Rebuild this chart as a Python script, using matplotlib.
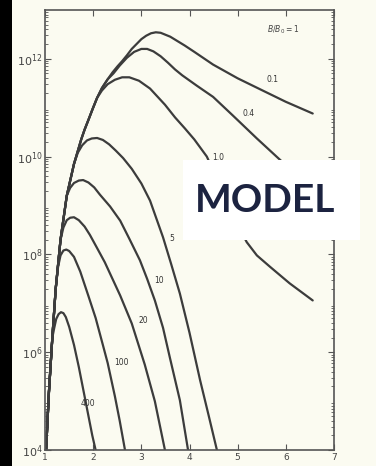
import numpy as np
from matplotlib import pyplot as plt
from matplotlib.patches import Rectangle

# shared steep rise at the left (x, log10 y)
rise_x = [1.02, 1.08, 1.15, 1.22, 1.32, 1.45, 1.60, 1.75, 1.82, 1.90, 1.99,
          2.08, 2.18, 2.30, 2.40, 2.50]
rise_log = [4.0, 5.2, 6.3, 7.3, 8.3, 9.2, 9.85, 10.35, 10.55, 10.75, 10.98,
            11.2, 11.4, 11.58, 11.72, 11.84]

# each curve: how many rise points it shares, then its own branch
curve_names = ['0.1', '0.4', '1.0', '5', '10', '20', '100', '400']
shared = [16, 14, 12, 7, 6, 5, 4, 3]
branch_x = [
    [2.60, 2.70, 2.80, 2.90, 3.00, 3.10, 3.20, 3.30, 3.40, 3.60, 3.90, 4.10,
     4.49, 5.00, 5.52, 6.00, 6.56],
    [2.42, 2.55, 2.70, 2.85, 3.00, 3.12, 3.25, 3.40, 3.55, 3.70, 3.85, 4.15,
     4.49, 4.90, 5.40, 5.94, 6.56],
    [2.18, 2.30, 2.45, 2.60, 2.75, 2.95, 3.18, 3.49, 3.70, 3.90, 4.10, 4.36,
     4.73, 5.00, 5.19, 5.40, 5.67, 6.08, 6.56],
    [1.68, 1.77, 1.87, 1.97, 2.08, 2.20, 2.33, 2.47, 2.62, 2.80, 3.00, 3.18,
     3.45, 3.62, 3.80, 4.00, 4.22, 4.40, 4.57],
    [1.52, 1.60, 1.70, 1.79, 1.90, 2.02, 2.14, 2.35, 2.56, 2.75, 2.97, 3.12,
     3.28, 3.45, 3.59, 3.80, 3.97],
    [1.38, 1.45, 1.52, 1.60, 1.70, 1.82, 1.93, 2.08, 2.24, 2.40, 2.56, 2.80,
     3.07, 3.28, 3.49],
    [1.27, 1.32, 1.38, 1.44, 1.50, 1.60, 1.73, 1.90, 2.05, 2.20, 2.30, 2.45,
     2.55, 2.66],
    [1.19, 1.23, 1.28, 1.33, 1.38, 1.43, 1.50, 1.60, 1.70, 1.80, 1.90, 1.98,
     2.05],
]
branch_log = [
    [11.95, 12.07, 12.20, 12.30, 12.40, 12.47, 12.52, 12.54, 12.53, 12.45,
     12.27, 12.14, 11.88, 11.60, 11.35, 11.12, 10.88],
    [11.70, 11.86, 12.02, 12.14, 12.20, 12.20, 12.15, 12.05, 11.92, 11.78,
     11.66, 11.45, 11.22, 10.84, 10.37, 9.88, 9.25],
    [11.35, 11.48, 11.57, 11.62, 11.62, 11.55, 11.39, 11.06, 10.80, 10.58,
     10.35, 10.00, 9.20, 8.60, 8.25, 7.98, 7.75, 7.41, 7.06],
    [10.08, 10.23, 10.33, 10.37, 10.38, 10.34, 10.25, 10.12, 9.97, 9.75, 9.45,
     9.10, 8.35, 7.80, 7.20, 6.40, 5.43, 4.70, 4.00],
    [9.36, 9.46, 9.51, 9.52, 9.47, 9.37, 9.22, 8.98, 8.69, 8.32, 7.88, 7.50,
     7.06, 6.50, 5.90, 5.02, 4.00],
    [8.55, 8.70, 8.75, 8.76, 8.70, 8.57, 8.40, 8.13, 7.84, 7.50, 7.16, 6.59,
     5.75, 5.00, 4.00],
    [7.75, 7.98, 8.08, 8.10, 8.07, 7.95, 7.65, 7.15, 6.70, 6.15, 5.78, 5.10,
     4.60, 4.00],
    [6.50, 6.68, 6.78, 6.82, 6.80, 6.72, 6.52, 6.15, 5.70, 5.20, 4.70, 4.30,
     4.00],
]
label_pos = [(5.60, 11.58), (5.10, 10.88), (4.48, 9.98), (3.58, 8.33),
             (3.26, 7.47), (2.93, 6.65), (2.43, 5.80), (1.74, 4.96)]

x_ticks = [1, 2, 3, 4, 5, 6, 7]
y_major = [1e4, 1e6, 1e8, 1e10, 1e12]

paper = '#fbfbf1'
ink = '#3c3c3c'

fig = plt.figure(figsize=(3.76, 4.66), dpi=100, facecolor=paper)
ax = fig.add_axes([0.120, 0.034, 0.768, 0.945], facecolor=paper)

for i, name in enumerate(curve_names):
    xs = rise_x[:shared[i]] + branch_x[i]
    ys = 10 ** np.array(rise_log[:shared[i]] + branch_log[i])
    ax.plot(xs, ys, color=ink, lw=1.6, solid_capstyle='round',
            solid_joinstyle='round')
    ax.text(label_pos[i][0], 10 ** label_pos[i][1], name, fontsize=5.5,
            color='#333333', ha='left', va='center')

ax.text(5.95, 10 ** 12.6, r'$B/B_0=1$', fontsize=5.5, color='#444444',
        ha='center', va='center')

ax.set_yscale('log')
ax.set_xlim(1, 7)
ax.set_ylim(1e4, 1e13)
ax.set_xticks(x_ticks)
ax.set_xticklabels([str(t) for t in x_ticks], fontsize=6.5, color='#444444')
ax.set_yticks(y_major)
ax.set_yticklabels([r'$10^{%d}$' % int(np.log10(v)) for v in y_major],
                   fontsize=8, color='#444444')
ax.tick_params(which='both', direction='in', top=True, right=True,
               color='#555555', pad=2)
ax.tick_params(which='major', length=4)
ax.tick_params(which='minor', length=2)
for s in ax.spines.values():
    s.set_color('#555555')
    s.set_linewidth(1.2)

# black strip of the scan on the left
fig.patches.append(Rectangle((0, 0), 12 / 376, 1, transform=fig.transFigure,
                             facecolor='black', edgecolor='none', zorder=5))
# white label box
fig.patches.append(Rectangle((183 / 376, 1 - 240 / 466), 177 / 376, 80 / 466,
                             transform=fig.transFigure, facecolor='white',
                             edgecolor='none', zorder=5))
fig.text(265 / 376, 1 - 200 / 466, 'MODEL', fontsize=28, color='#1c2340',
         family='Lato', fontweight='bold', ha='center', va='center', zorder=6)

fig.savefig('out.png', dpi=100, facecolor=paper)
